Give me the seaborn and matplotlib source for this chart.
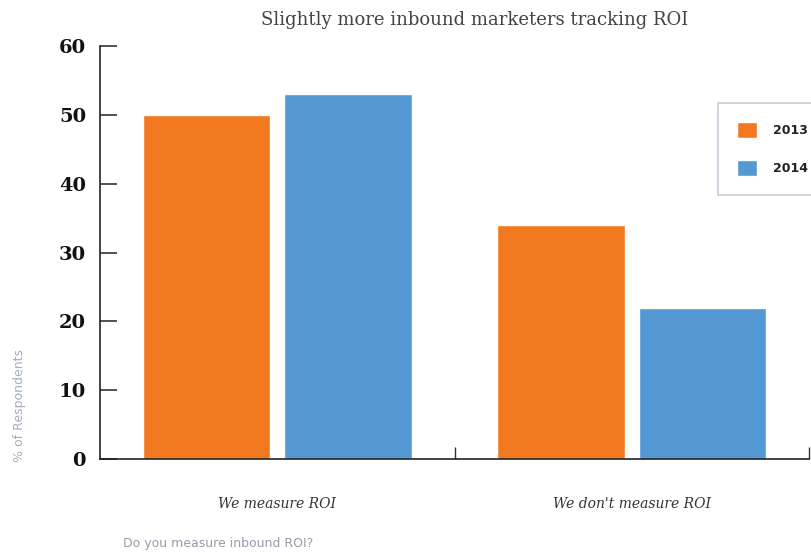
import numpy as np
import pandas as pd
import seaborn as sns
from matplotlib import pyplot as plt

# data
categories = ["We measure ROI", "We don't measure ROI"]
years = ["2013", "2014"]
vals_2013 = [50, 34]
vals_2014 = [53, 22]

df = pd.DataFrame({
    "answer": categories * 2,
    "year": [years[0]] * 2 + [years[1]] * 2,
    "pct": vals_2013 + vals_2014,
})

sns.set_style("white")
plt.rcParams["font.family"] = ["DejaVu Sans"]

fig = plt.figure(figsize=(8.11, 5.53), dpi=100)
ax = fig.add_axes([100 / 811, 1 - 459 / 553, 709 / 811, (459 - 46) / 553])

pal = {"2013": "#F37920", "2014": "#5499D3"}
sns.barplot(data=df, x="answer", y="pct", hue="year", palette=pal,
            width=0.8, gap=0.1, saturation=1, ax=ax, legend=True)

ax.set_xlim(-0.5, 1.5)
ax.set_ylim(0, 60)
ax.set_yticks(range(0, 61, 10))
ax.set_yticklabels([str(v) for v in range(0, 61, 10)],
                   family="DejaVu Serif", fontweight="bold", fontsize=14, color="#111111")
ax.tick_params(axis="y", left=True, direction="in", length=12, width=1.2,
               color="#333333", pad=10)

ax.set_xticks([0, 1])
ax.set_xticklabels(categories, family="DejaVu Serif", style="italic",
                   fontsize=10, color="#333333")
ax.tick_params(axis="x", which="major", bottom=False, length=0, pad=27)
ax.set_xticks([0.5, 1.5], minor=True)
ax.tick_params(axis="x", which="minor", bottom=True, direction="in", length=9,
               width=1, color="#333333")

for s in ["top", "right"]:
    ax.spines[s].set_visible(False)
for s in ["left", "bottom"]:
    ax.spines[s].set_color("#222222")
    ax.spines[s].set_linewidth(1.2)

ax.set_xlabel("")
ax.set_ylabel("")

fig.text(20 / 811, 1 - 405 / 553, "% of Respondents", rotation=90, ha="center", va="center",
         fontsize=9, color="#a4adbe", fontweight="medium")
fig.text(123 / 811, 1 - 543 / 553, "Do you measure inbound ROI?", ha="left", va="center",
         fontsize=9, color="#959dac", fontweight="medium")
fig.text(475 / 811, 1 - 20 / 553, "Slightly more inbound marketers tracking ROI",
         ha="center", va="center", family="DejaVu Serif", fontsize=13, color="#444444")

leg = ax.legend(loc="upper left", bbox_to_anchor=(718 / 811, 1 - 103 / 553),
                bbox_transform=fig.transFigure, frameon=True, fancybox=False,
                fontsize=9, handlelength=1.6, handleheight=1.6, labelspacing=1.8,
                borderpad=1.5, handletextpad=1.3, borderaxespad=0)
leg.get_frame().set_edgecolor("#b8bfcc")
leg.get_frame().set_linewidth(1.2)
for t in leg.get_texts():
    t.set_fontweight("bold")
    t.set_color("#222222")

fig.savefig("out.png", dpi=100)
